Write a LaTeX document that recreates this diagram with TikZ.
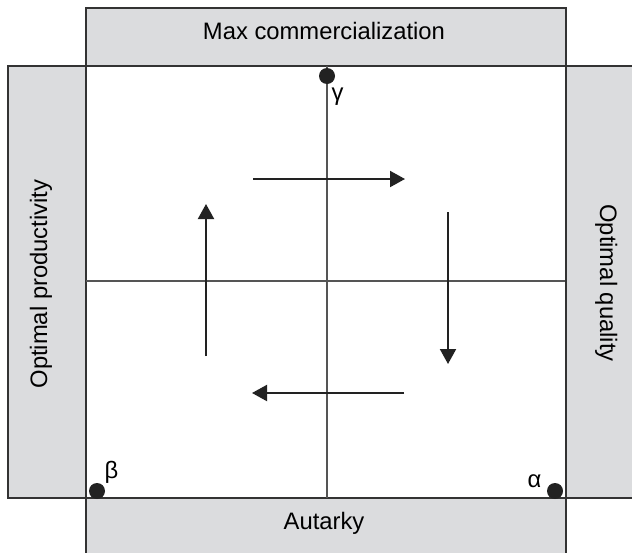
\documentclass[tikz,border=0pt]{standalone}
\usepackage{fontspec}
\setmainfont{Liberation Sans}
\usetikzlibrary{arrows.meta}
\definecolor{boxgray}{HTML}{DBDCDE}
\definecolor{edge}{HTML}{333333}
\definecolor{axis}{HTML}{555555}
\definecolor{ink}{HTML}{222222}
\tikzset{
  panel/.style={draw=edge, line width=2pt, fill=boxgray},
  axisline/.style={draw=axis, line width=1.3pt},
  flow/.style={draw=ink, line width=2pt, -{Triangle[length=15pt,width=16pt]}},
  dot/.style={circle, fill=ink, inner sep=0pt, minimum size=16pt},
  lbl/.style={font=\fontsize{23.8}{28}\selectfont, inner sep=0pt, anchor=base, text=black},
}
\begin{document}
\begin{tikzpicture}[x=1pt,y=-1pt]
\useasboundingbox (0,0) rectangle (632,552);
\clip (0,0) rectangle (632,552);
% panels
\draw[panel] (86,8) rectangle (566,66);
\draw[panel] (8,66) rectangle (86,498);
\draw[panel] (565,66) rectangle (645,498);
\draw[panel] (86,498) rectangle (566,565);
\draw[draw=edge, line width=2pt, fill=white] (86,66) rectangle (565.5,498);
% named anchors
\coordinate (topmid) at (327,66);
\coordinate (botmid) at (327,498);
\coordinate (leftmid) at (86,281);
\coordinate (rightmid) at (565,281);
\draw[axisline] (topmid) -- (botmid);
\draw[axisline] (leftmid) -- (rightmid);
% texts
\node[lbl] (maxc) at (324,39) {Max commercialization};
\node[lbl] (aut) at (324,529) {Autarky};
\node[lbl, rotate=90] (prod) at (47,284) {Optimal productivity};
\node[lbl, rotate=-90] (qual) at (600,283) {Optimal quality};
% dots
\node[dot] (g) at (327,76) {};
\node[dot] (b) at (97,491) {};
\node[dot] (a) at (555,491) {};
\node[lbl] (gl) at (337.5,100) {γ};
\node[lbl] (bl) at (111.5,478) {β};
\node[lbl] (al) at (534.5,487) {α};
% arrows
\coordinate (t1) at (253,179); \coordinate (t2) at (405,179);
\coordinate (r1) at (448,212); \coordinate (r2) at (448,364);
\coordinate (b1) at (404,393); \coordinate (b2) at (252,393);
\coordinate (l1) at (206,356); \coordinate (l2) at (206,204);
\draw[flow] (t1) -- (t2);
\draw[flow] (r1) -- (r2);
\draw[flow] (b1) -- (b2);
\draw[flow] (l1) -- (l2);
\end{tikzpicture}
\end{document}
